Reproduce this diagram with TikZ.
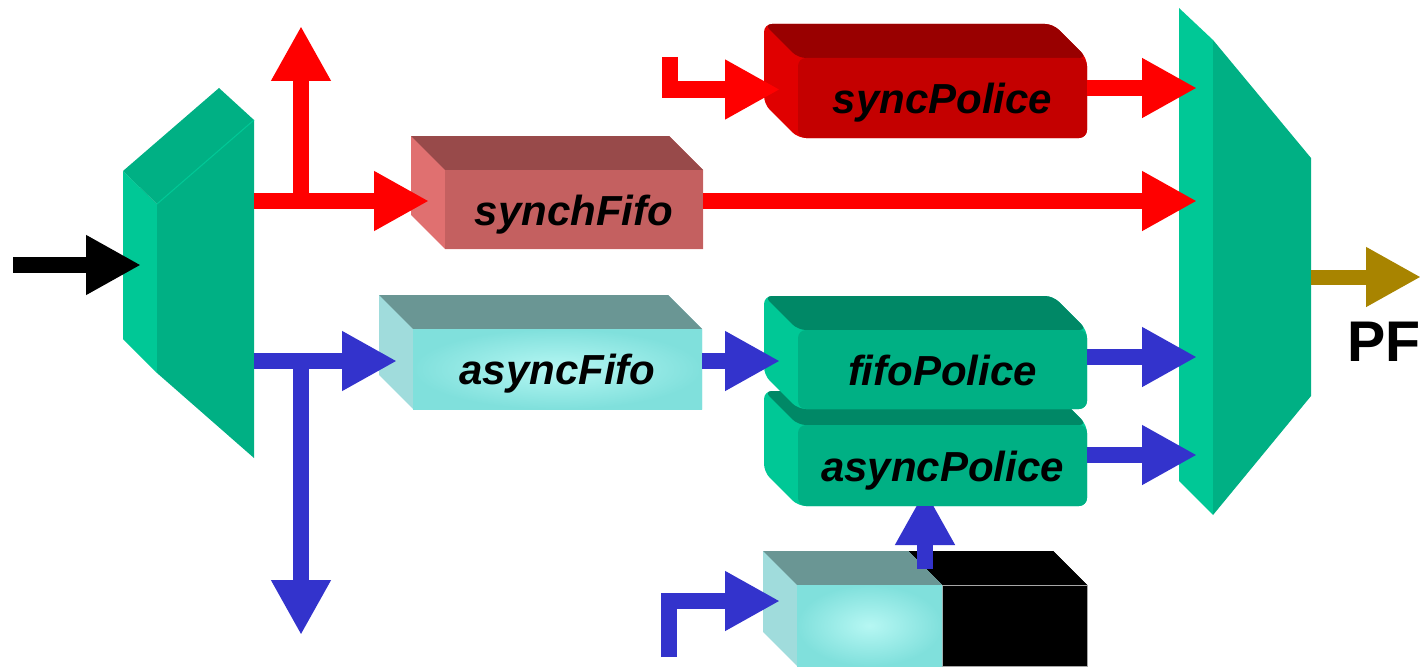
\documentclass[tikz,border=0pt]{standalone}
\usepackage{fontspec}
\setmainfont{Liberation Sans}
\usetikzlibrary{arrows.meta,calc}

% palette
\definecolor{tealLight}{RGB}{0,200,150}
\definecolor{tealDark}{RGB}{0,176,132}
\definecolor{flowRed}{RGB}{255,0,0}
\definecolor{flowBlue}{RGB}{51,51,204}
\definecolor{flowGold}{RGB}{168,132,0}
% synchFifo
\definecolor{sfFront}{RGB}{196,96,96}
\definecolor{sfSide}{RGB}{224,112,112}
\definecolor{sfTop}{RGB}{152,74,74}
% syncPolice
\definecolor{spFront}{RGB}{196,0,0}
\definecolor{spSide}{RGB}{224,0,0}
\definecolor{spTop}{RGB}{153,0,0}
% fifoPolice / asyncPolice
\definecolor{fpFront}{RGB}{0,176,132}
\definecolor{fpSide}{RGB}{0,200,150}
\definecolor{fpTop}{RGB}{0,136,102}
% asyncFifo and the small buffer
\definecolor{afFront}{RGB}{128,224,220}
\definecolor{afGlow}{RGB}{182,247,243}
\definecolor{afSide}{RGB}{160,220,220}
\definecolor{afTop}{RGB}{106,150,148}
% black block
\definecolor{bkFront}{RGB}{0,0,0}
\definecolor{bkSide}{RGB}{0,0,0}
\definecolor{bkTop}{RGB}{0,0,0}

\tikzset{
  blocktext/.style={font=\fontsize{31.5pt}{36pt}\selectfont\bfseries\itshape, text=black,
                    text height=23.5pt, text depth=0pt},
  face/.style={inner sep=0pt, outer sep=0pt},
  sfFace/.style={fill=sfFront},
  spFace/.style={fill=spFront},
  fpFace/.style={fill=fpFront},
  afFace/.style={inner color=afGlow, outer color=afFront},
  bkFace/.style={fill=black, draw=gray!70, line width=0.6pt},
  flow/.style={line width=12pt, line join=miter, -{Triangle[length=41.25pt,width=42pt]}},
}

% extruded block: [corner opts]{name}{x1}{y1}{x2}{y2}{colour prefix}{text}
\newcommand\block[8][]{%
  \fill[#7Side,#1] (#3-34,#4-34) -- (#5-34,#4-34) -- (#5,#4) -- (#5,#6) -- (#3,#6) -- (#3-34,#6-34) -- cycle;
  \fill[#7Top,#1] (#3-34,#4-34) -- (#5-34,#4-34) -- (#5,#4) -- (#3,#4) -- cycle;
  \node[face,#7Face,#1,blocktext,
        minimum width={(#5-#3)*0.75pt}, minimum height={(#6-#4)*0.75pt}]
        (#2) at ({(#3+#5)/2},{(#4+#6)/2}) {#8};
}

\begin{document}
\begin{tikzpicture}[x=0.75pt,y=-0.75pt]
\useasboundingbox (0,0) rectangle (1427,667);

% input demultiplexer
\fill[tealLight] (123,171) -- (157,204) -- (157,373) -- (123,339) -- cycle;
\fill[tealDark] (123,171) -- (219,88) -- (254,120) -- (157,204) -- cycle;
\fill[tealDark] (157,204) -- (254,120) -- (254,458) -- (157,373) -- cycle;
\draw[tealLight, line width=0.8pt] (157,204) -- (254,120);

% output multiplexer
\fill[tealLight] (1179,8) -- (1213,40) -- (1213,515) -- (1179,481) -- cycle;
\fill[tealDark] (1213,40) -- (1311,158) -- (1311,396) -- (1213,515) -- cycle;

% queues and policers
\block{synchFifo}{445}{170}{703}{249}{sf}{synchFifo}
\block[rounded corners=6pt]{syncPolice}{798}{58}{1087}{138}{sp}{syncPolice}
\block{asyncFifo}{413}{329}{702}{409}{af}{asyncFifo}
\block{blackBlock}{942}{585}{1087}{666}{bk}{}
\block{bufferBlock}{797}{585}{942}{666}{af}{}
\block[rounded corners=6pt]{asyncPolice}{798}{425}{1087}{506}{fp}{asyncPolice}
\block[rounded corners=6pt]{fifoPolice}{798}{330}{1087}{409}{fp}{fifoPolice}

% free ends of the flows
\coordinate (inSrc) at (13,265);
\coordinate (dmxIn) at (141,265);
\coordinate (dmxRed) at (254,201);
\coordinate (dmxBlue) at (254,361);
\coordinate (redUp) at (301,201);
\coordinate (redUpEnd) at (301,26);
\coordinate (blueDown) at (301,361);
\coordinate (blueDownEnd) at (301,635);
\coordinate (muxIn1) at (1197,88);
\coordinate (muxIn2) at (1197,201);
\coordinate (muxIn3) at (1197,357);
\coordinate (muxIn4) at (1197,455);
\coordinate (muxOut) at (1311,277);
\coordinate (pfEnd) at (1421,277);
\coordinate (spFeed) at (669.5,57);
\coordinate (bbFeed) at (668.5,657);
\coordinate (apFeed) at (925,569);

% flows
\draw[flow,black] (inSrc) -- (dmxIn);
\draw[flow,flowRed] (dmxRed) -- ($(synchFifo.west)+(-16,-8.5)$);
\draw[flow,flowRed] (redUp) -- (redUpEnd);
\draw[flow,flowRed] ($(synchFifo.east)+(0,-8.5)$) -- (muxIn2);
\draw[flow,flowRed] (spFeed) |- ($(syncPolice.west)+(-18,-8.5)$);
\draw[flow,flowRed] ($(syncPolice.east)+(0,-10)$) -- (muxIn1);

\draw[flow,flowBlue] (dmxBlue) -- ($(asyncFifo.west)+(-16,-8)$);
\draw[flow,flowBlue] (blueDown) -- (blueDownEnd);
\draw[flow,flowBlue] ($(asyncFifo.east)+(0,-8)$) -- ($(fifoPolice.west)+(-18,-8.5)$);
\draw[flow,flowBlue] ($(fifoPolice.east)+(0,-12.5)$) -- (muxIn3);
\draw[flow,flowBlue] ($(asyncPolice.east)+(0,-10.5)$) -- (muxIn4);
\draw[flow,flowBlue] (bbFeed) |- ($(bufferBlock.west)+(-17,-24.5)$);
\begin{scope}
  \clip (0,506) rectangle (1427,667);
  \draw[flow,flowBlue] (apFeed) -- ($(asyncPolice.south)+(-17.5,-16)$);
\end{scope}

\draw[flow,flowGold,line width=11.25pt] (muxOut) -- (pfEnd);
\node[font=\fontsize{43pt}{48pt}\selectfont\bfseries, inner sep=0pt] (pf) at (1384,342) {PF};
\end{tikzpicture}
\end{document}
